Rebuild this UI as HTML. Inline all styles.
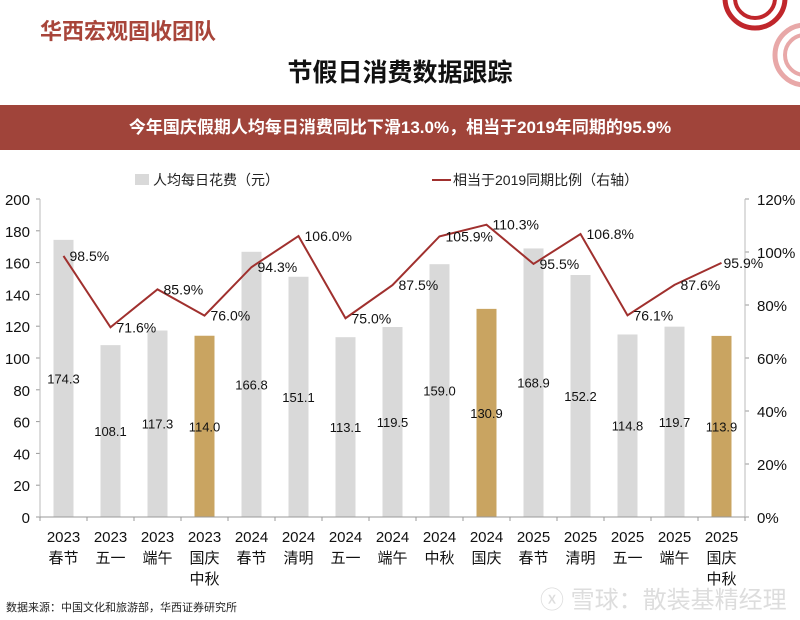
<!DOCTYPE html>
<html><head><meta charset="utf-8"><style>
body{margin:0;width:800px;height:620px;background:#fff;overflow:hidden;font-family:"Liberation Sans","Noto Sans CJK SC",sans-serif;position:relative}
.abs{position:absolute}
</style></head><body>
<div class="abs" style="left:40px;top:14px;font-size:22px;font-weight:bold;color:#a8453a">华西宏观固收团队</div>
<div class="abs" style="left:0;width:800px;top:53px;text-align:center;font-size:25px;font-weight:bold;color:#111">节假日消费数据跟踪</div>
<svg class="abs" style="left:0;top:0" width="800" height="100">
<circle cx="755" cy="-2" r="30" fill="none" stroke="#c0262b" stroke-width="5"/>
<circle cx="755" cy="-2" r="20" fill="none" stroke="#c0262b" stroke-width="4"/>
<circle cx="805" cy="55" r="30" fill="none" stroke="#e8a8a8" stroke-width="5"/>
<circle cx="805" cy="55" r="20" fill="none" stroke="#e8a8a8" stroke-width="4"/>
</svg>
<div class="abs" style="left:0;top:105px;width:800px;height:45px;background:#a0443a;color:#fff;font-size:17px;font-weight:bold;text-align:center;line-height:45px">今年国庆假期人均每日消费同比下滑13.0%，相当于2019年同期的95.9%</div>
<svg id="chart" class="abs" style="left:0;top:160px" width="800" height="460"></svg>
<div class="abs" style="left:6px;top:599px;font-size:11px;color:#222">数据来源：中国文化和旅游部，华西证券研究所</div>
<div class="abs" style="left:540px;top:580px;font-size:24px;color:#ddd">ⓧ 雪球：散装基精经理</div>
<script>
const years=["2023","2023","2023","2023","2024","2024","2024","2024","2024","2024","2025","2025","2025","2025","2025"];
const holidays=["春节","五一","端午","国庆中秋","春节","清明","五一","端午","中秋","国庆","春节","清明","五一","端午","国庆中秋"];
const spend=[174.3,108.1,117.3,114.0,166.8,151.1,113.1,119.5,159.0,130.9,168.9,152.2,114.8,119.7,113.9];
const ratio=[98.5,71.6,85.9,76.0,94.3,106.0,75.0,87.5,105.9,110.3,95.5,106.8,76.1,87.6,95.9];
const highlight=[3,9,14];
const leftTicks=[0,20,40,60,80,100,120,140,160,180,200];
const rightTicks=[0,20,40,60,80,100,120];
const svg=document.getElementById('chart');const NS='http://www.w3.org/2000/svg';
const X0=40,BW=47,Y0=357,H=318;
const x=i=>X0+BW*(i+0.5);
const yL=v=>Y0-v/200*H;
const yR=v=>Y0-v/120*H;
function mk(t,a,txt){const e=document.createElementNS(NS,t);for(const k in a)e.setAttribute(k,a[k]);if(txt!==undefined)e.textContent=txt;svg.appendChild(e);return e;}
let e=mk('rect',{x:135,y:14,width:14,height:11,fill:'#d9d9d9'});

e=mk('text',{x:153,y:25,'font-size':14,fill:'#222'},'人均每日花费（元）');

e=mk('line',{x1:432,x2:451,y1:20,y2:20,stroke:'#a0302e','stroke-width':2});

e=mk('text',{x:453,y:25,'font-size':14,fill:'#222'},'相当于2019同期比例（右轴）');

leftTicks.forEach(v=>{e=mk('text',{x:30,y:yL(v)+6,'font-size':15,'text-anchor':'end',fill:'#111'},v);

mk('line',{x1:36,x2:40,y1:yL(v),y2:yL(v),stroke:'#999'});});
mk('line',{x1:40,x2:40,y1:yL(200),y2:Y0,stroke:'#bbb'});
rightTicks.forEach(v=>{e=mk('text',{x:757,y:yR(v)+6,'font-size':15,fill:'#111'},v+'%');

mk('line',{x1:745,x2:749,y1:yR(v),y2:yR(v),stroke:'#999'});});
mk('line',{x1:745,x2:745,y1:yR(120),y2:Y0,stroke:'#bbb'});
spend.forEach((v,i)=>{e=mk('rect',{x:x(i)-10,y:yL(v),width:20,height:Y0-yL(v),fill:highlight.includes(i)?'#c9a461':'#d9d9d9'});

e=mk('text',{x:x(i),y:yL(v)/2+Y0/2+5,'font-size':13,'text-anchor':'middle',fill:'#111'},v.toFixed(1));
});
e=mk('line',{x1:X0,x2:X0+BW*15,y1:Y0,y2:Y0,stroke:'#999'});

for(let i=0;i<=15;i++){mk('line',{x1:X0+BW*i,x2:X0+BW*i,y1:Y0,y2:Y0+4,stroke:'#999'});}
e=mk('polyline',{points:ratio.map((v,i)=>x(i)+','+yR(v)).join(' '),fill:'none',stroke:'#a0302e','stroke-width':2});

ratio.forEach((v,i)=>{e=mk('text',{x:x(i)+(i==14?2:6),y:yR(v)+5,'font-size':14,fill:'#111'},v.toFixed(1)+'%');
});
years.forEach((yv,i)=>{e=mk('text',{x:x(i),y:Y0+25,'font-size':15,'text-anchor':'middle',fill:'#111'},yv);

const h=holidays[i];const lines=h.length>2?[h.slice(0,2),h.slice(2)]:[h];
lines.forEach((l,j)=>{e=mk('text',{x:x(i),y:Y0+46+j*21,'font-size':15,'text-anchor':'middle',fill:'#111'},l);
});});
</script>
</body></html>
